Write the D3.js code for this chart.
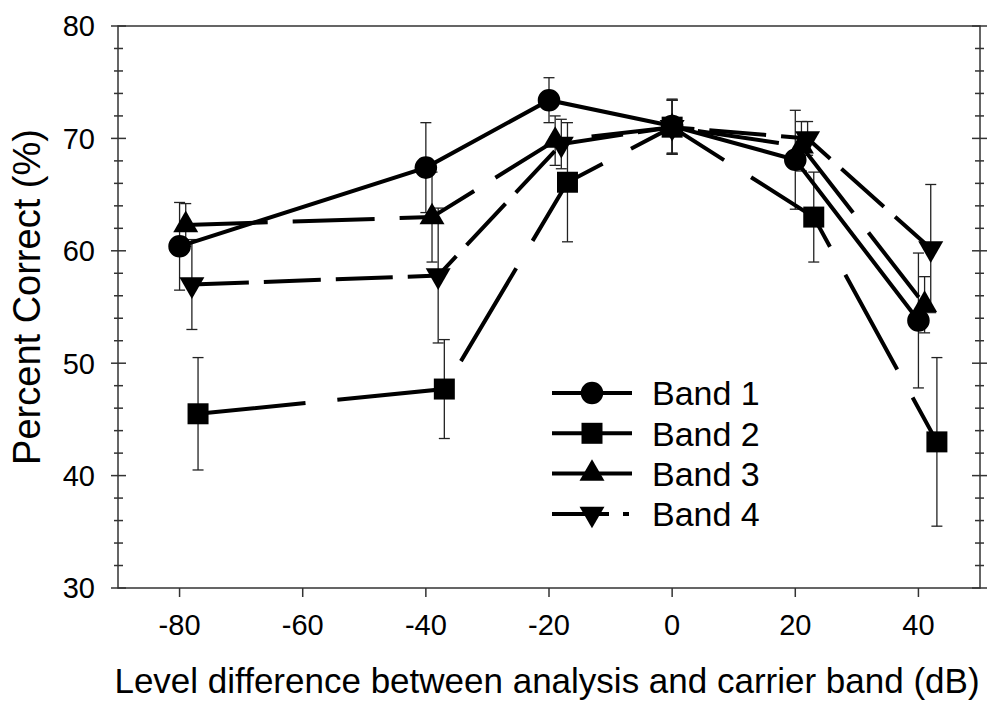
<!DOCTYPE html>
<html>
<head>
<meta charset="utf-8">
<script src="https://cdn.jsdelivr.net/npm/d3@7"></script>
<style>
  body { margin: 0; background: #fff; }
  text { font-family: "Liberation Sans", Arial, Helvetica, sans-serif; fill: #000; }
</style>
</head>
<body>
<svg id="chart" width="988" height="705"></svg>
<script>
// data
var xTicks = [-80, -60, -40, -20, 0, 20, 40];
var yTicks = [30, 40, 50, 60, 70, 80];
var bandNames = ["Band 1", "Band 2", "Band 3", "Band 4"];

var band1X = [-80, -40, -20, 0, 20, 40];
var band1Y = [60.4, 67.4, 73.4, 71.1, 68.1, 53.8];
var band1Err = [3.9, 4.0, 2.0, 2.4, 4.4, 6.0];

var band2X = [-77, -37, -17, 0, 23, 43];
var band2Y = [45.5, 47.7, 66.1, 71.0, 63.0, 43.0];
var band2Err = [5.0, 4.4, 5.3, 2.4, 4.0, 7.5];

var band3X = [-79, -39, -19, 0, 21, 41];
var band3Y = [62.3, 63.0, 69.8, 71.0, 69.3, 55.2];
var band3Err = [1.9, 4.0, 2.2, 2.4, 2.2, 2.5];

var band4X = [-78, -38, -18, 0, 22, 42];
var band4Y = [57.0, 57.8, 69.5, 71.0, 70.0, 60.2];
var band4Err = [4.0, 6.0, 2.2, 2.4, 1.5, 5.7];

var margin = { top: 26, right: 8, bottom: 117, left: 118 };
var width = 988 - margin.left - margin.right;
var height = 705 - margin.top - margin.bottom;

var svg = d3.select("#chart");
var g = svg.append("g")
    .attr("transform", "translate(" + margin.left + "," + margin.top + ")");

var x = d3.scaleLinear().domain([-90, 50]).range([0, width]);
var y = d3.scaleLinear().domain([30, 80]).range([height, 0]);

function zip(xs, ys, es) {
    return xs.map(function (v, i) { return { x: v, y: ys[i], e: es[i] }; });
}

var series = [
    { name: bandNames[0], pts: zip(band1X, band1Y, band1Err), shape: d3.symbolCircle, size: 400, dash: null, rot: 0 },
    { name: bandNames[1], pts: zip(band2X, band2Y, band2Err), shape: d3.symbolSquare, size: 441, dash: "108,32", rot: 0 },
    { name: bandNames[2], pts: zip(band3X, band3Y, band3Err), shape: d3.symbolTriangle, size: 270, dash: "82,25", rot: 0 },
    { name: bandNames[3], pts: zip(band4X, band4Y, band4Err), shape: d3.symbolTriangle, size: 270, dash: "57,15", rot: 180 }
];

// frame
g.append("rect")
    .attr("width", width).attr("height", height)
    .attr("fill", "none").attr("stroke", "#333").attr("stroke-width", 1.5);

// y axis: major ticks cross the axis, minor every 2
var yMinor = d3.range(30, 80.1, 2);
g.selectAll(".ytick")
    .data(yMinor)
    .enter().append("line")
    .attr("x1", function (d) { return d % 10 === 0 ? -7 : -4; })
    .attr("x2", function (d) { return d % 10 === 0 ? 8 : 5; })
    .attr("y1", function (d) { return y(d); })
    .attr("y2", function (d) { return y(d); })
    .attr("stroke", "#333").attr("stroke-width", 1.5);

g.selectAll(".ytickR")
    .data(yMinor)
    .enter().append("line")
    .attr("x1", function (d) { return width - (d % 10 === 0 ? 8 : 5); })
    .attr("x2", function (d) { return width + (d % 10 === 0 ? 7 : 4); })
    .attr("y1", function (d) { return y(d); })
    .attr("y2", function (d) { return y(d); })
    .attr("stroke", "#333").attr("stroke-width", 1.5);

g.selectAll(".ylab")
    .data(yTicks)
    .enter().append("text")
    .attr("x", -23)
    .attr("y", function (d) { return y(d); })
    .attr("dy", "0.36em")
    .attr("text-anchor", "end")
    .style("font-size", "29px")
    .text(function (d) { return d; });

// x axis ticks
g.selectAll(".xtick")
    .data(xTicks)
    .enter().append("line")
    .attr("x1", function (d) { return x(d); })
    .attr("x2", function (d) { return x(d); })
    .attr("y1", height).attr("y2", height + 9)
    .attr("stroke", "#333").attr("stroke-width", 1.5);

g.selectAll(".xlab")
    .data(xTicks)
    .enter().append("text")
    .attr("x", function (d) { return x(d); })
    .attr("y", height + 47)
    .attr("text-anchor", "middle")
    .style("font-size", "29px")
    .text(function (d) { return d; });

// axis titles
g.append("text")
    .attr("x", width / 2 - 2)
    .attr("y", height + 105)
    .attr("text-anchor", "middle")
    .style("font-size", "35px")
    .text("Level difference between analysis and carrier band (dB)");

svg.append("text")
    .attr("transform", "translate(40," + (margin.top + height / 2 - 10) + ") rotate(-90)")
    .attr("text-anchor", "middle")
    .style("font-size", "38px")
    .text("Percent Correct (%)");

// error bars
series.forEach(function (s) {
    var eb = g.append("g").attr("stroke", "#222").attr("stroke-width", 1.3);
    s.pts.forEach(function (p) {
        var cx = x(p.x);
        eb.append("line")
            .attr("x1", cx).attr("x2", cx)
            .attr("y1", y(p.y - p.e)).attr("y2", y(p.y + p.e));
        [p.y - p.e, p.y + p.e].forEach(function (v) {
            eb.append("line")
                .attr("x1", cx - 5.5).attr("x2", cx + 5.5)
                .attr("y1", y(v)).attr("y2", y(v));
        });
    });
});

// lines
var line = d3.line()
    .x(function (d) { return x(d.x); })
    .y(function (d) { return y(d.y); });

series.forEach(function (s) {
    g.append("path")
        .datum(s.pts)
        .attr("d", line)
        .attr("fill", "none")
        .attr("stroke", "#000")
        .attr("stroke-width", 4)
        .attr("stroke-dasharray", s.dash);
});

// markers
series.forEach(function (s) {
    g.selectAll(null)
        .data(s.pts)
        .enter().append("path")
        .attr("d", d3.symbol().type(s.shape).size(s.size))
        .attr("transform", function (d) {
            return "translate(" + x(d.x) + "," + y(d.y) + ") rotate(" + s.rot + ")";
        })
        .attr("fill", "#000");
});

// legend
var legend = svg.append("g")
    .attr("transform", "translate(552,393)");

var rows = legend.selectAll(".row")
    .data(series)
    .enter().append("g")
    .attr("transform", function (d, i) { return "translate(0," + (i * 40.3) + ")"; });

rows.append("line")
    .attr("x1", 0).attr("x2", 80)
    .attr("stroke", "#000").attr("stroke-width", 4)
    .attr("stroke-dasharray", function (d, i) { return i === 3 ? "57,14,6,20" : null; });

rows.append("path")
    .attr("d", function (d) { return d3.symbol().type(d.shape).size(d.size)(); })
    .attr("transform", function (d) { return "translate(40,0) rotate(" + d.rot + ")"; })
    .attr("fill", "#000");

rows.append("text")
    .attr("x", 100)
    .attr("dy", "0.36em")
    .style("font-size", "34px")
    .text(function (d) { return d.name; });
</script>
</body>
</html>
